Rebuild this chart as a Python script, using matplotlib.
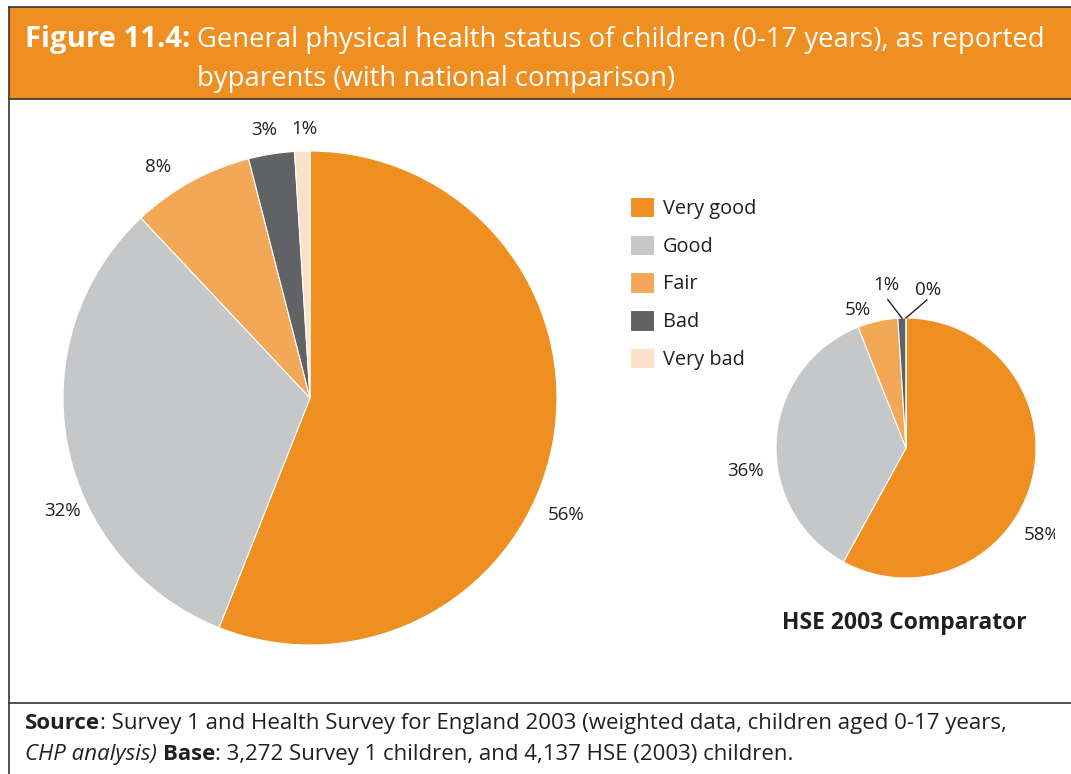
import numpy as np
import matplotlib
matplotlib.use("Agg")
import matplotlib.pyplot as plt
from matplotlib.patches import Rectangle

# ---- data -----------------------------------------------------------------
categories = ["Very good", "Good", "Fair", "Bad", "Very bad"]
survey_pct = [56, 32, 8, 3, 1]
hse_pct = [58, 36, 5, 1, 0]
survey_labels = ["56%", "32%", "8%", "3%", "1%"]
hse_labels = ["58%", "36%", "5%", "1%", "0%"]

colors = ["#EF8E21", "#C6C7C9", "#F3A857", "#616266", "#FBE1C8"]
ORANGE = "#EF8E21"
TEXT = "#231F20"
BODY_FONT = ["Open Sans", "DejaVu Sans"]

# label placement (angle in degrees, distance in radii)
survey_label_pos = [(-24.6, 1.14), (204.5, 1.10), (123.2, 1.12), (99.8, 1.10), (91.3, 1.09)]
hse_label_pos = [(-32.6, 1.24), (188.0, 1.25), (109.2, 1.12), (97.0, 1.26), (82.0, 1.23)]

W, H = 1071, 774
fig = plt.figure(figsize=(W / 100, H / 100), dpi=100)
renderer = fig.canvas.get_renderer()

# ---- frame and title band -------------------------------------------------
bg = fig.add_axes([0, 0, 1, 1])
bg.set_xlim(0, W)
bg.set_ylim(H, 0)
bg.axis("off")
bg.add_patch(Rectangle((9, 7), W, 92, facecolor=ORANGE, edgecolor="none"))
bg.plot([9, W], [7, 7], color="#333333", lw=1.2)
bg.plot([9, W], [99, 99], color="#333333", lw=1.2)
bg.plot([9, 9], [7, H], color="#333333", lw=1.2)
bg.plot([9, W], [703, 703], color="#333333", lw=1.2)


def fit_text(x, y, txt, width_px, **kw):
    # shrink/grow font so the text spans the same width as in the original
    t = bg.text(x, y, txt, va="baseline", **kw)
    w = t.get_window_extent(renderer).width
    t.set_fontsize(t.get_fontsize() * width_px / w)
    return t


fit_text(25, 47, "Figure 11.4:", 165, color="white", fontsize=21, fontweight="bold",
         family=BODY_FONT)
t1 = fit_text(197, 47, "General physical health status of children (0-17 years), as reported",
              845, color="white", fontsize=20, family=BODY_FONT)
bg.text(197, 86, "byparents (with national comparison)", color="white",
        fontsize=t1.get_fontsize(), family=BODY_FONT, va="baseline")


def draw_pie(rect, values, labels, label_pos, fontsize):
    ax = fig.add_axes(rect)
    wedges, _ = ax.pie(values, colors=colors, startangle=90, counterclock=False,
                       wedgeprops=dict(linewidth=0.8, edgecolor="white"))
    ax.set_xlim(-1, 1)
    ax.set_ylim(-1, 1)
    ax.set_aspect("equal")
    ax.axis("off")
    texts = []
    for lab, (ang, dist) in zip(labels, label_pos):
        a = np.deg2rad(ang)
        t = ax.text(dist * np.cos(a), dist * np.sin(a), lab, ha="center", va="center",
                    fontsize=fontsize, color=TEXT, family=BODY_FONT, clip_on=False)
        texts.append(t)
    return ax, wedges, texts


# big pie: Survey 1
ax1, wedges1, _ = draw_pie([(310 - 247) / W, (H - 398 - 247) / H, 494 / W, 494 / H],
                           survey_pct, survey_labels, survey_label_pos, 13.5)

# small pie: HSE 2003
ax2, wedges2, texts2 = draw_pie([(906 - 130) / W, (H - 448 - 130) / H, 260 / W, 260 / H],
                                hse_pct, hse_labels, hse_label_pos, 13.5)
# the 58% label is cut by the chart edge in the original
texts2[0].set_clip_path(Rectangle((0, 0), 1055 / W, 1, transform=fig.transFigure))
texts2[0].set_clip_on(True)

# leader lines for the thin slices
for i in (3, 4):
    w = wedges2[i]
    mid = np.deg2rad((w.theta1 + w.theta2) / 2)
    ang, dist = hse_label_pos[i]
    a = np.deg2rad(ang)
    ax2.plot([np.cos(mid), 1.15 * np.cos(a)], [np.sin(mid), 1.15 * np.sin(a)],
             color=TEXT, lw=1, clip_on=False)

fig.text(904 / W, 1 - 623 / H, "HSE 2003 Comparator", ha="center", va="center",
         fontsize=16.5, fontweight="bold", color=TEXT, family=BODY_FONT)

# legend
leg = fig.legend(wedges1, categories, loc="upper left", bbox_to_anchor=(622 / W, 1 - 189 / H),
                 frameon=False, handlelength=1.2, handleheight=1.2,
                 labelspacing=0.8, handletextpad=0.45, borderaxespad=0,
                 prop=dict(family=BODY_FONT, size=14.3))
for t in leg.get_texts():
    t.set_color(TEXT)

# ---- footer with mixed styles ---------------------------------------------
def write_run(x, y, parts):
    for txt, style in parts:
        kw = dict(fontsize=16, color=TEXT, family=BODY_FONT, va="baseline")
        if style == "b":
            kw["fontweight"] = "bold"
        elif style == "i":
            kw["fontstyle"] = "italic"
        t = bg.text(x, y, txt, **kw)
        x += t.get_window_extent(renderer).width


write_run(25, 729, [("Source", "b"),
                    (": Survey 1 and Health Survey for England 2003 (weighted data, children aged 0-17 years,", "")])
write_run(25, 760, [("CHP analysis)", "i"), (" ", ""), ("Base", "b"),
                    (": 3,272 Survey 1 children, and 4,137 HSE (2003) children.", "")])

fig.savefig("out.png", dpi=100)
